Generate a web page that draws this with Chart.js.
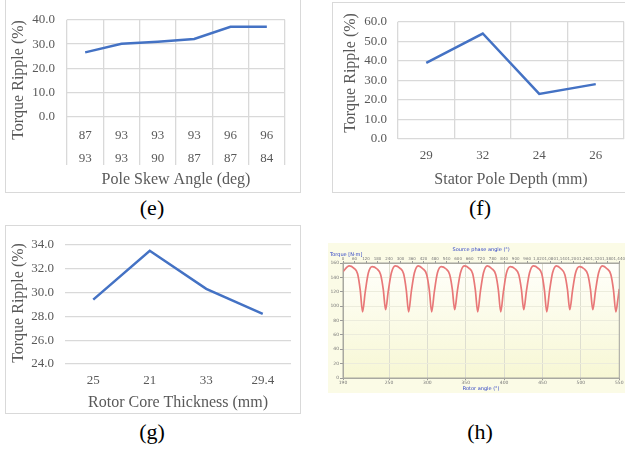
<!DOCTYPE html>
<html>
<head>
<meta charset="utf-8">
<script src="https://cdn.jsdelivr.net/npm/chart.js@4"></script>
<style>
  body { margin: 0; width: 625px; height: 454px; background: #fff; position: relative; overflow: hidden; font-family: "Liberation Serif", serif; }
  .frame { position: absolute; border: 1px solid #d9d9d9; background: #fff; }
  .frame canvas { display: block; }
  .ytitle { position: absolute; color: #595959; font-size: 16px; white-space: nowrap; transform: translate(-50%, -50%) rotate(-90deg); }
  .tag { position: absolute; font-size: 22px; color: #000; white-space: nowrap; transform: translate(-50%, -50%); }
  #waveChart { position: absolute; left: 328px; top: 243px; filter: blur(0.5px); }
  .wave-note { position: absolute; left: 330px; top: 251px; font-family: "DejaVu Sans", sans-serif; font-size: 5px; color: #2b3fc4; white-space: nowrap; }
</style>
</head>
<body>

<div class="frame" style="left:5px; top:-1px;"><canvas id="skewChart" width="294" height="192"></canvas></div>
<div class="frame" style="left:332px; top:2px;"><canvas id="depthChart" width="299" height="189"></canvas></div>
<div class="frame" style="left:5px; top:225px;"><canvas id="coreChart" width="294" height="187"></canvas></div>
<canvas id="waveChart" width="297" height="150"></canvas>

<div class="ytitle" style="left:18px; top:80px;">Torque Ripple (%)</div>
<div class="ytitle" style="left:350px; top:73px;">Torque Ripple (%)</div>
<div class="ytitle" style="left:18px; top:303px;">Torque Ripple (%)</div>
<div class="wave-note">Torque [N·m]</div>

<div class="tag" style="left:152px; top:208px;">(e)</div>
<div class="tag" style="left:480px; top:208px;">(f)</div>
<div class="tag" style="left:152px; top:432px;">(g)</div>
<div class="tag" style="left:480px; top:432px;">(h)</div>

<script>
// pole skew angle pairs (two label rows) vs torque ripple
const skewTop = ['87', '93', '93', '93', '96', '96'];
const skewBottom = ['93', '93', '90', '87', '87', '84'];
const skewRipple = [26.6, 30.1, 31.0, 32.1, 37.1, 37.1];

// stator pole depth
const depthLabels = ['29', '32', '24', '26'];
const depthRipple = [39.0, 54.0, 23.1, 28.1];

// rotor core thickness
const coreLabels = ['25', '21', '33', '29.4'];
const coreRipple = [29.4, 33.5, 30.3, 28.2];

// torque waveform over rotor angle
const rotorAngle = [190,
  198, 204, 209, 212.5, 215.5, 219, 223,
  228, 234, 239, 242.5, 245.5, 249, 253,
  258, 264, 269, 272.5, 275.5, 279, 283,
  288, 294, 299, 302.5, 305.5, 309, 313,
  318, 324, 329, 332.5, 335.5, 339, 343,
  348, 354, 359, 362.5, 365.5, 369, 373,
  378, 384, 389, 392.5, 395.5, 399, 403,
  408, 414, 419, 422.5, 425.5, 429, 433,
  438, 444, 449, 452.5, 455.5, 459, 463,
  468, 474, 479, 482.5, 485.5, 489, 493,
  498, 504, 509, 512.5, 515.5, 519, 523,
  528, 534, 539, 542.5, 545.5, 548, 550];
const torqueNm = [148,
  156, 153, 145, 122, 92, 120, 146,
  155, 152, 144, 123, 95, 121, 146,
  156, 153, 145, 122, 92, 120, 146,
  156, 152, 144, 122, 92, 120, 146,
  155, 152, 144, 123, 95, 121, 146,
  156, 153, 145, 122, 92, 120, 146,
  156, 152, 144, 122, 92, 120, 146,
  155, 152, 144, 123, 95, 121, 146,
  156, 153, 145, 122, 92, 120, 146,
  156, 152, 144, 123, 95, 121, 146,
  155, 152, 144, 123, 95, 121, 146,
  156, 152, 144, 122, 92, 108, 124];

const BLUE = '#4472C4';
const GRID = '#d9d9d9';
const TEXT = '#595959';
const SERIF = "'Liberation Serif', 'Times New Roman', serif";

function rippleChart(id, labels, values, o) {
  return new Chart(document.getElementById(id), {
    type: 'line',
    data: {
      labels: labels,
      datasets: [{ data: values, borderColor: BLUE, borderWidth: 2.5, pointRadius: 0, tension: 0 }]
    },
    options: {
      responsive: false,
      animation: false,
      layout: { padding: { top: o.top, right: o.right, left: 0, bottom: 0 } },
      plugins: { legend: { display: false }, tooltip: { enabled: false } },
      scales: {
        x: {
          offset: true,
          grid: { display: o.vgrid, offset: true, color: GRID, lineWidth: 1.3, drawTicks: o.tickLen > 0, tickLength: o.tickLen },
          border: { display: false },
          ticks: {
            color: TEXT, autoSkip: false, maxRotation: 0, padding: o.xPad,
            font: { family: SERIF, size: 13, lineHeight: o.lineHeight }
          },
          title: {
            display: true, text: o.xTitle, color: TEXT,
            font: { family: SERIF, size: 16 }, padding: { top: 0, bottom: o.titlePad }
          },
          afterFit: s => { s.height = o.xHeight; }
        },
        y: {
          min: o.min, max: o.max,
          grid: { color: GRID, lineWidth: 1.3, drawTicks: false },
          border: { display: false },
          ticks: {
            stepSize: o.step, color: TEXT, padding: o.yPad,
            font: { family: SERIF, size: 13 },
            callback: v => v.toFixed(1)
          },
          afterFit: s => { s.width = o.yWidth; }
        }
      }
    }
  });
}

rippleChart('skewChart', skewTop.map((t, i) => [t, skewBottom[i]]), skewRipple, {
  top: 12, right: 15, vgrid: true, tickLen: 48, xPad: -41, lineHeight: '23px',
  xTitle: 'Pole Skew Angle (deg)', titlePad: 2.4, xHeight: 75,
  min: 0, max: 40, step: 10, yPad: 12, yWidth: 61
});

rippleChart('depthChart', depthLabels, depthRipple, {
  top: 17, right: 8, vgrid: true, tickLen: 0, xPad: 9, lineHeight: 1.2,
  xTitle: 'Stator Pole Depth (mm)', titlePad: 2.4, xHeight: 53,
  min: 0, max: 60, step: 10, yPad: 11, yWidth: 65
});

rippleChart('coreChart', coreLabels, coreRipple, {
  top: 10, right: 9, vgrid: false, tickLen: 0, xPad: 9, lineHeight: 1.2,
  xTitle: 'Rotor Core Thickness (mm)', titlePad: 0.7, xHeight: 49,
  min: 24, max: 34, step: 2, yPad: 11, yWidth: 59
});

// pale yellow paper with a gradient plot panel and a thin frame
const paperBg = {
  id: 'paperBg',
  beforeDraw(chart) {
    const { ctx, chartArea: a, width, height } = chart;
    ctx.save();
    ctx.fillStyle = '#fbfbe6';
    ctx.fillRect(0, 0, width, height);
    const g = ctx.createLinearGradient(0, a.top, 0, a.bottom);
    g.addColorStop(0, '#fffffb');
    g.addColorStop(1, '#f7f7d4');
    ctx.fillStyle = g;
    ctx.fillRect(a.left, a.top, a.right - a.left, a.bottom - a.top);
    ctx.restore();
  },
  afterDraw(chart) {
    const { ctx, chartArea: a } = chart;
    ctx.save();
    ctx.strokeStyle = '#a8a8a0';
    ctx.lineWidth = 1;
    ctx.strokeRect(a.left, a.top, a.right - a.left, a.bottom - a.top);
    ctx.restore();
  }
};

const SMALL = "'DejaVu Sans', sans-serif";

new Chart(document.getElementById('waveChart'), {
  type: 'line',
  data: {
    datasets: [{
      data: rotorAngle.map((a, i) => ({ x: a, y: torqueNm[i] })),
      borderColor: '#e87878', borderWidth: 1.7, pointRadius: 0,
      cubicInterpolationMode: 'monotone', xAxisID: 'x', yAxisID: 'y'
    }]
  },
  options: {
    responsive: false,
    animation: false,
    layout: { padding: { right: 3 } },
    plugins: { legend: { display: false }, tooltip: { enabled: false } },
    scales: {
      x: {
        type: 'linear', position: 'bottom', min: 190, max: 550,
        ticks: { stepSize: 50, color: '#777', padding: 0, font: { family: SMALL, size: 4.5 } },
        grid: { color: '#deded0', tickLength: 2, tickColor: '#999' },
        border: { color: '#a8a8a0' },
        title: { display: true, text: 'Rotor angle (°)', color: '#2b3fc4', font: { family: SMALL, size: 5 }, padding: { top: 0, bottom: 1.5 } },
        afterFit: s => { s.height = 15; }
      },
      x2: {
        type: 'linear', position: 'top', min: 0, max: 1440,
        ticks: { stepSize: 60, autoSkip: false, maxRotation: 0, color: '#777', padding: 0, font: { family: SMALL, size: 4 } },
        grid: { drawOnChartArea: false, tickLength: 2, color: '#999' },
        border: { color: '#a8a8a0' },
        title: { display: true, text: 'Source phase angle (°)', color: '#2b3fc4', font: { family: SMALL, size: 5 }, padding: { top: 3.5, bottom: 0 } },
        afterFit: s => { s.height = 20; }
      },
      y: {
        min: 0, max: 160,
        ticks: { stepSize: 20, color: '#777', padding: 1, font: { family: SMALL, size: 4.5 } },
        grid: { color: '#ececdc', tickLength: 3, tickColor: '#999' },
        border: { color: '#a8a8a0' },
        afterFit: s => { s.width = 15; }
      }
    }
  },
  plugins: [paperBg]
});
</script>
</body>
</html>
